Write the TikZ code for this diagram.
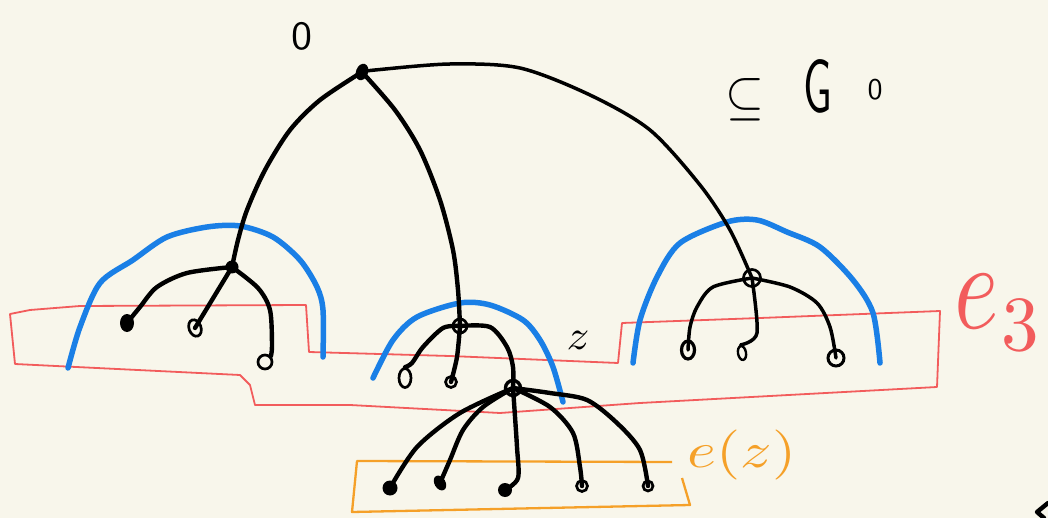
\documentclass[tikz,border=0pt]{standalone}
\usetikzlibrary{shapes.geometric,backgrounds}
\definecolor{bg}{RGB}{248,246,235}
\definecolor{hred}{RGB}{242,92,92}
\definecolor{hblue}{RGB}{26,127,230}
\definecolor{horange}{RGB}{245,160,40}
\tikzset{
  fdot/.style={ellipse,fill=black,inner sep=0pt,minimum width=#1,minimum height=#1},
  fdot/.default=11pt,
  ring/.style={circle,draw=black,line width=2.7pt,inner sep=0pt,minimum size=#1},
  ring/.default=10pt,
  oval/.style={ellipse,draw=black,line width=2.7pt,inner sep=0pt},
  edge/.style={line width=4.4pt,line cap=round,line join=round},
  thinedge/.style={line width=3.5pt,line cap=round,line join=round},
  barc/.style={hblue,line width=5.5pt,line cap=round,line join=round},
  redline/.style={hred,line width=1.8pt,line join=round},
  orline/.style={horange,line width=2.3pt,line join=round},
  lab/.style={inner sep=0pt,font=\sffamily},
}
\begin{document}
\begin{tikzpicture}[x=1pt,y=-1pt]
\useasboundingbox (0,0) rectangle (1048,518);
% nodes
\node[ellipse,fill=black,inner sep=0pt,minimum width=12pt,minimum height=17pt,rotate=-20] (root) at (362,72) {};
\node[fdot=13pt] (a) at (232,267) {};
\node[ellipse,fill=black,inner sep=0pt,minimum width=14pt,minimum height=18pt] (a1) at (127,323) {};
\node[oval,minimum width=12pt,minimum height=17pt,rotate=20] (a2) at (195,328) {};
\node[ring=14pt] (a3) at (265,362) {};
\node[ring=14pt] (b) at (460,326) {};
\node[oval,minimum width=12pt,minimum height=19pt] (b1) at (405,378) {};
\node[ring=11pt] (b2) at (451,382) {};
\node[ring=15pt,line width=3.4pt] (z) at (513,388) {};
\node[fdot=15pt] (z1) at (390,488) {};
\node[ellipse,fill=black,inner sep=0pt,minimum width=11pt,minimum height=16pt,rotate=30] (z2) at (440,483) {};
\node[fdot=14pt] (z3) at (505,490) {};
\node[ring=11pt] (z4) at (582,486) {};
\node[ring=10pt] (z5) at (648,486) {};
\node[ring=17pt] (c) at (752,278) {};
\node[oval,minimum width=13pt,minimum height=18pt,line width=3.2pt] (c1) at (688,350) {};
\node[oval,minimum width=8pt,minimum height=14pt,line width=2.4pt,rotate=10] (c2) at (742,353) {};
\node[ring=16pt,line width=3pt] (c3) at (836,358) {};
% labels
\node[lab] (l0) at (302,36) {\scalebox{4.2}[4]{0}};
\node[lab] (lz) at (578,340) {\scalebox{4.5}[4.2]{$z$}};
\node[lab] (lsub) at (745,100) {\scalebox{5}[5.5]{$\subseteq$}};
\node[lab] (lG) at (818,86) {\scalebox{4.3}[7.5]{G}};
\node[lab] (lG0) at (875,90) {\scalebox{3}[3]{0}};
\node[lab,text=hred] (le3) at (977,302) {\scalebox{9.5}[12.5]{$e$}};
\node[lab,text=hred] (le3b) at (1020,325) {\scalebox{7.5}[7.8]{$3$}};
\node[lab,text=horange] (lez) at (742,455) {\scalebox{6.2}[5]{$e(z)$}};
\begin{scope}[on background layer]
\fill[bg] (0,0) rectangle (1048,518);
% red e3 region
\draw[redline] (10,314) -- (30,310) -- (80,306) -- (306,305) -- (309,352) -- (450,356) -- (618,363) -- (622,323) -- (760,318) -- (940,311) -- (937,387) -- (640,403) -- (500,413) -- (350,405) -- (255,405) -- (250,385) -- (240,375) -- (15,364) -- cycle;
% orange e(z) region
\draw[orline] (672,462) -- (357,461) -- (352,512) -- (690,505) -- (682,478);
% blue arcs
\draw[barc] plot[smooth] coordinates {(68,368) (80,327) (100,283) (133,260) (167,237) (207,227) (240,226) (273,237) (300,260) (317,287) (323,310) (323,357)};
\draw[barc] plot[smooth] coordinates {(373,378) (393,340) (417,317) (460,303) (490,305) (523,320) (540,340) (553,367) (563,402)};
\draw[barc] plot[smooth] coordinates {(633,363) (640,320) (657,277) (680,243) (727,222) (757,220) (787,232) (820,247) (853,280) (873,313) (880,363)};
% tree edges
\draw[edge] plot[smooth] coordinates {(root.center) (320,100) (290,130) (265,170) (247,210) (238,240) (a.center)};
\draw[edge] plot[smooth] coordinates {(root.center) (395,110) (420,150) (440,200) (453,250) (458,290) (b.center)};
\draw[thinedge] plot[smooth] coordinates {(root.center) (375,70) (450,64) (520,68) (590,95) (650,130) (700,185) (730,230) (c.center)};
\draw[edge] plot[smooth] coordinates {(a.center) (187,273) (157,287) (140,307) (a1.center)};
\draw[edge] (a.center) -- (a2.center);
\draw[edge] plot[smooth] coordinates {(a.center) (258,288) (270,310) (272,345) (a3.north east)};
\draw[edge] plot[smooth] coordinates {(b.center) (443,328) (423,347) (412,363) (b1.north)};
\draw[edge] plot[smooth] coordinates {(b.center) (457,357) (b2.center)};
\draw[edge] plot[smooth] coordinates {(b.center) (490,327) (507,347) (513,367) (z.center)};
\draw[edge] plot[smooth] coordinates {(z.center) (460,413) (417,447) (z1.center)};
\draw[edge] plot[smooth] coordinates {(z.center) (483,407) (463,430) (450,460) (z2.center)};
\draw[edge] plot[smooth] coordinates {(z.center) (517,447) (518,478) (z3.center)};
\draw[edge] plot[smooth] coordinates {(z.center) (550,407) (573,433) (580,467) (z4.center)};
\draw[edge] plot[smooth] coordinates {(z.center) (550,393) (587,400) (617,423) (640,450) (z5.center)};
\draw[thinedge] plot[smooth] coordinates {(c.center) (713,287) (697,307) (690,327) (c1.center)};
\draw[thinedge] plot[smooth] coordinates {(c.center) (757,333) (c2.north)};
\draw[thinedge] plot[smooth] coordinates {(c.center) (790,287) (817,303) (830,327) (c3.center)};
% small stroke at bottom right corner
\draw[edge] (1048,503) -- (1037,512) -- (1044,518);
\end{scope}
\end{tikzpicture}
\end{document}
